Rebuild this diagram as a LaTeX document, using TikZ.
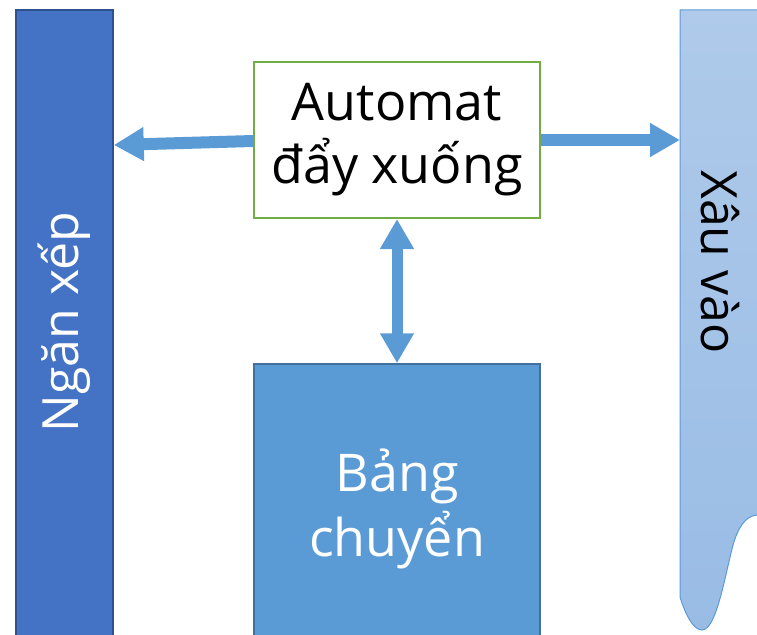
\documentclass[tikz,border=0pt]{standalone}
\usepackage{fontspec}
\setmainfont{Open Sans}
\usetikzlibrary{arrows.meta,positioning}
\definecolor{stackfill}{HTML}{4472C4}
\definecolor{stackline}{HTML}{2F528F}
\definecolor{autoline}{HTML}{70AD47}
\definecolor{tablefill}{HTML}{5B9BD5}
\definecolor{tableline}{HTML}{41719C}
\definecolor{arrowblue}{HTML}{5B9BD5}
\definecolor{inputtop}{HTML}{AFCAEA}
\definecolor{inputbottom}{HTML}{99BCE5}
\definecolor{inputline}{HTML}{5B9BD5}
\tikzset{
    stackbar/.style={draw=stackline,fill=stackfill,line width=1.5pt,minimum width=97pt,minimum height=640pt,inner sep=0pt},
    bartext/.style={font=\fontsize{50}{60}\selectfont,inner sep=0pt},
    autobox/.style={draw=autoline,fill=white,line width=2pt,minimum width=286pt,minimum height=156pt,align=center,
        font=\fontsize{52}{63}\selectfont},
    tablebox/.style={draw=tableline,fill=tablefill,line width=1.5pt,minimum width=286pt,minimum height=290pt,align=center,
        text=white,font=\fontsize{52}{65}\selectfont},
    inputbar/.style={draw=inputline,top color=inputtop,bottom color=inputbottom,line width=1pt},
    blockarrow/.style={arrowblue,line width=12pt,-{Triangle[length=30pt,width=32pt]}},
    blockarrowboth/.style={arrowblue,line width=11pt,{Triangle[length=30pt,width=32pt]}-{Triangle[length=30pt,width=32pt]}}
}

\begin{document}
\begin{tikzpicture}[x=1pt,y=-1pt]
    \useasboundingbox (0,0) rectangle (757,634);

    % stack on the left
    \node[stackbar] (stack) at (64.5,330) {};
    \node[bartext,text=white,rotate=90] (stacklabel) at (64,322) {Ngăn xếp};

    % input tape on the right, wavy lower end
    \path[inputbar] (680,10) -- (770,10) -- (770,515) -- (757,515)
        .. controls (745,516) and (738,528) .. (733,545)
        .. controls (724,580) and (716,630) .. (702,630)
        .. controls (692,630) and (684,610) .. (680,597) -- cycle;
    \coordinate (tapeedge) at (680,140);
    \node[bartext,rotate=-90] (tapelabel) at (720,262) {Xâu vào};

    % automaton and transition table
    \node[autobox] (auto) at (397,140) {Automat\\đẩy xuống};
    \node[tablebox] (table) at (397,509) {Bảng\\chuyển};

    % connectors
    \draw[blockarrow] ([yshift=-1pt]auto.west) -- ([yshift=-5pt]stack.east |- auto.west);
    \draw[blockarrow] (auto.east) -- (tapeedge);
    \draw[blockarrowboth] (auto.south) -- (table.north);
\end{tikzpicture}
\end{document}
